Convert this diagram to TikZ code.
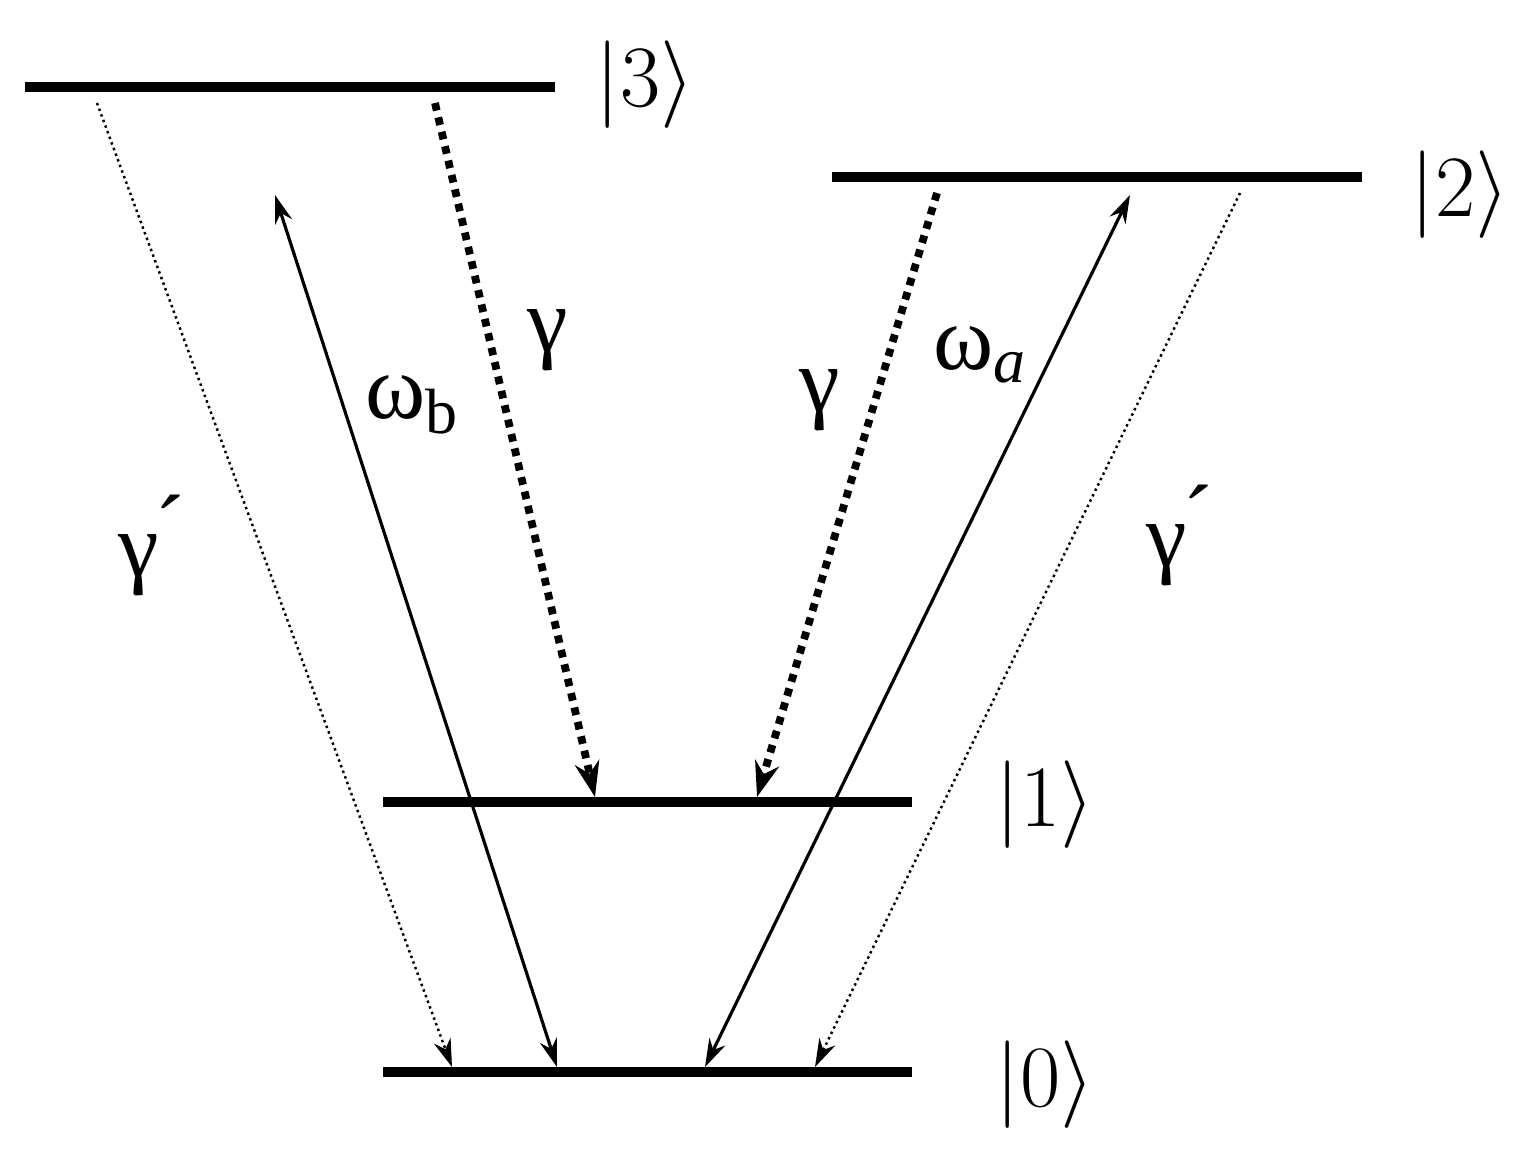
\documentclass[tikz,border=0pt]{standalone}
\usepackage{fontspec}
\setmainfont{Liberation Serif}
\usetikzlibrary{arrows.meta}
\begin{document}
\begin{tikzpicture}[x=0.01cm,y=-0.01cm,
  level/.style={line width=2.6pt},
  lbl/.style={font=\fontsize{26}{30}\selectfont},
  ket/.style={font=\fontsize{30}{34}\selectfont},
  pump/.style={line width=0.9pt,{Stealth[length=8pt,width=5pt]}-{Stealth[length=8pt,width=5pt]}},
  decayS/.style={line width=2.2pt,dotted,-{Stealth[length=10pt,width=7pt]}},
  decayW/.style={line width=0.7pt,densely dotted,-{Stealth[length=8pt,width=5pt]}}]
\useasboundingbox (0,0) rectangle (1530,1160);
\draw[level] (25,87) -- (555,87);
\draw[level] (832,177) -- (1362,177);
\draw[level] (383,802) -- (912,802);
\draw[level] (383,1072) -- (912,1072);
\node[ket] (k3) at (645,85) {$|3\rangle$};
\node[ket] (k2) at (1460,195) {$|2\rangle$};
\node[ket] (k1) at (1045,805) {$|1\rangle$};
\node[ket] (k0) at (1045,1085) {$|0\rangle$};
\coordinate (a1) at (97,103); \coordinate (a2) at (452,1067);
\coordinate (b1) at (557,1067); \coordinate (b2) at (275,195);
\coordinate (c1) at (705,1067); \coordinate (c2) at (1130,195);
\coordinate (d1) at (435,103); \coordinate (d2) at (595,797);
\coordinate (e1) at (937,193); \coordinate (e2) at (757,797);
\coordinate (f1) at (1240,193); \coordinate (f2) at (815,1067);
\draw[decayW] (a1) -- (a2);
\draw[decayW] (f1) -- (f2);
\draw[pump] (b1) -- (b2);
\draw[pump] (c1) -- (c2);
\draw[decayS] (d1) -- (d2);
\draw[decayS] (e1) -- (e2);
\node[lbl] (l1) at (150,545) {γ\'{}};
\node[lbl] (l2) at (412,405) {ω\textsubscript{b}};
\node[lbl] (l3) at (548,340) {γ};
\node[lbl] (l4) at (820,400) {γ};
\node[lbl] (l5) at (980,355) {ω\textsubscript{\itshape a}};
\node[lbl] (l6) at (1178,535) {γ\'{}};
\end{tikzpicture}
\end{document}
